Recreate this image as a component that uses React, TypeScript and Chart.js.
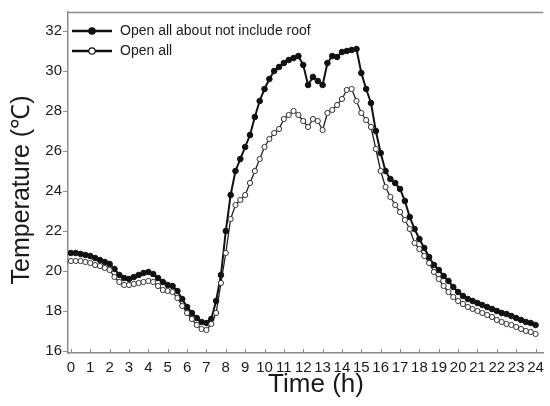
import React, { useEffect, useRef } from "react";
import { Chart, registerables } from "chart.js";

Chart.register(...registerables);

// sampling grid: every 15 minutes, 0 h .. 24 h
const hours: number[] = Array.from({ length: 97 }, (_, i) => i * 0.25);

const seriesNames = ["Open all about not include roof", "Open all"];
const xTitle = "Time (h)";
const yTitle = "Temperature (\u2103)";

// Open all about not include roof (filled markers)
const roofClosedTemps: number[] = [
  20.9, 20.9, 20.85, 20.8, 20.75, 20.65, 20.55, 20.45,
  20.35, 20.1, 19.8, 19.65, 19.6, 19.7, 19.8, 19.9,
  19.95, 19.85, 19.65, 19.45, 19.3, 19.25, 19.0, 18.6,
  18.2, 17.9, 17.65, 17.45, 17.4, 17.6, 18.5, 19.8,
  22.0, 23.8, 25.0, 25.6, 26.2, 26.8, 27.7, 28.5,
  29.1, 29.6, 30.0, 30.2, 30.4, 30.55, 30.65, 30.75,
  30.3, 29.3, 29.7, 29.5, 29.3, 30.4, 30.75, 30.7,
  30.95, 31.0, 31.05, 31.1, 29.9, 29.1, 28.4, 27.0,
  25.9, 25.0, 24.6, 24.4, 24.1, 23.5, 22.7, 22.1,
  21.6, 21.15, 20.7, 20.3, 20.05, 19.75, 19.5, 19.2,
  18.95, 18.75, 18.6, 18.5, 18.4, 18.3, 18.2, 18.1,
  18.0, 17.9, 17.85, 17.75, 17.65, 17.55, 17.45, 17.4,
  17.3,
];

// Open all (open markers)
const openAllTemps: number[] = [
  20.5, 20.5, 20.5, 20.45, 20.4, 20.3, 20.25, 20.15,
  20.05, 19.7, 19.45, 19.3, 19.3, 19.35, 19.4, 19.45,
  19.5, 19.45, 19.25, 19.05, 19.0, 18.95, 18.65, 18.25,
  17.9, 17.6, 17.3, 17.1, 17.05, 17.35, 17.9, 19.4,
  20.9, 22.6, 23.3, 23.55, 23.8, 24.4, 25.0, 25.6,
  26.2, 26.6, 26.9, 27.1, 27.6, 27.8, 28.0, 27.8,
  27.5, 27.2, 27.6, 27.5, 27.05, 27.9, 28.05, 28.3,
  28.6, 29.05, 29.1, 28.5, 27.9, 27.55, 27.2, 26.1,
  25.0, 24.2, 23.7, 23.3, 22.95, 22.55, 22.1, 21.4,
  21.1, 20.75, 20.4, 19.95, 19.6, 19.25, 18.95, 18.7,
  18.5, 18.35, 18.2, 18.1, 18.0, 17.9, 17.8, 17.7,
  17.55, 17.45, 17.35, 17.3, 17.2, 17.1, 17.0, 16.95,
  16.85,
];

const yTickValues: number[] = [16, 18, 20, 22, 24, 26, 28, 30, 32];
const xTickValues: number[] = Array.from({ length: 25 }, (_, i) => i);

const FONT = "'Liberation Sans', Arial, Helvetica, sans-serif";
const AXIS_COLOR = "#8a8a8a";
const TEXT_COLOR = "#1a1a1a";

const framePlugin = {
  id: "framePlugin",
  afterDraw(chart: any) {
    const { ctx, chartArea } = chart;
    const xScale = chart.scales.x;
    ctx.save();
    // top border
    ctx.strokeStyle = AXIS_COLOR;
    ctx.lineWidth = 1.5;
    ctx.beginPath();
    ctx.moveTo(chartArea.left, chartArea.top + 0.5);
    ctx.lineTo(chartArea.right, chartArea.top + 0.5);
    ctx.stroke();
    // inward x ticks
    ctx.lineWidth = 1;
    ctx.beginPath();
    for (const v of xTickValues) {
      const px = Math.round(xScale.getPixelForValue(v)) + 0.5;
      ctx.moveTo(px, chartArea.bottom);
      ctx.lineTo(px, chartArea.bottom - 4);
    }
    ctx.stroke();

    // axis titles
    ctx.fillStyle = TEXT_COLOR;
    ctx.textAlign = "center";
    ctx.textBaseline = "middle";
    ctx.font = `26px ${FONT}`;
    ctx.fillText(xTitle, 316, 385);
    ctx.save();
    ctx.translate(22, 190);
    ctx.rotate(-Math.PI / 2);
    ctx.font = `25px ${FONT}`;
    ctx.fillText(yTitle, 0, 0);
    ctx.restore();

    // legend inside plot area
    const ds = chart.data.datasets;
    const lx0 = chartArea.left + 4;
    const lx1 = chartArea.left + 44;
    const y0 = chart.scales.y.getPixelForValue(32);
    const rows = [y0, y0 + 20];
    ctx.font = `14px ${FONT}`;
    ctx.textBaseline = "middle";
    ctx.textAlign = "left";
    rows.forEach((yy, i) => {
      const d = ds[i === 0 ? 1 : 0];
      ctx.strokeStyle = "#111";
      ctx.lineWidth = 2.5;
      ctx.beginPath();
      ctx.moveTo(lx0, yy);
      ctx.lineTo(lx1, yy);
      ctx.stroke();
      ctx.beginPath();
      ctx.arc((lx0 + lx1) / 2, yy, 3.2, 0, Math.PI * 2);
      ctx.fillStyle = d.pointBackgroundColor;
      ctx.fill();
      ctx.lineWidth = 1.2;
      ctx.stroke();
      ctx.fillStyle = TEXT_COLOR;
      ctx.fillText(d.label, lx1 + 8, yy);
    });
    ctx.restore();
  },
};

export default function App() {
  const canvasRef = useRef<HTMLCanvasElement | null>(null);

  useEffect(() => {
    document.body.style.margin = "0";
    const canvas = canvasRef.current;
    if (!canvas) return;
    const chart = new Chart(canvas, {
      type: "line",
      data: {
        datasets: [
          {
            label: seriesNames[1],
            data: hours.map((h, i) => ({ x: h, y: openAllTemps[i] })),
            borderColor: "#222",
            borderWidth: 1.3,
            pointRadius: 2.6,
            pointBorderWidth: 1,
            pointBackgroundColor: "#ffffff",
            pointBorderColor: "#333",
            order: 0,
          },
          {
            label: seriesNames[0],
            data: hours.map((h, i) => ({ x: h, y: roofClosedTemps[i] })),
            borderColor: "#111",
            borderWidth: 2,
            pointRadius: 2.8,
            pointBorderWidth: 1,
            pointBackgroundColor: "#111111",
            pointBorderColor: "#111",
            order: 1,
          },
        ],
      },
      options: {
        responsive: false,
        animation: false,
        layout: { padding: { top: 12, right: 1, left: 0, bottom: 0 } },
        plugins: {
          legend: { display: false },
          tooltip: { enabled: false },
        },
        scales: {
          x: {
            type: "linear",
            min: -0.15,
            max: 24.4,
            afterBuildTicks: (axis: any) => {
              axis.ticks = xTickValues.map((v) => ({ value: v }));
            },
            afterFit: (scale: any) => {
              scale.height = 53;
            },
            grid: { display: false, drawTicks: false },
            border: { display: true, color: AXIS_COLOR, width: 1.5 },
            ticks: {
              autoSkip: false,
              maxRotation: 0,
              padding: 6,
              color: TEXT_COLOR,
              font: { family: FONT, size: 15 },
            },
            title: { display: false },
          },
          y: {
            type: "linear",
            min: 15.9,
            max: 32.95,
            afterBuildTicks: (axis: any) => {
              axis.ticks = yTickValues.map((v) => ({ value: v }));
            },
            afterFit: (scale: any) => {
              scale.width = 68;
            },
            grid: { display: true, drawOnChartArea: false, drawTicks: true, tickLength: 5, color: AXIS_COLOR },
            border: { display: true, color: AXIS_COLOR, width: 1.5 },
            ticks: {
              padding: 1,
              color: TEXT_COLOR,
              font: { family: FONT, size: 15 },
            },
            title: { display: false },
          },
        },
      },
      plugins: [framePlugin],
    } as any);
    return () => chart.destroy();
  }, []);

  return (
    <div style={{ position: "absolute", left: 0, top: 0, width: 550, height: 406, background: "#fff" }}>
      <canvas ref={canvasRef} width={550} height={406} style={{ width: 550, height: 406, display: "block" }} />
    </div>
  );
}
